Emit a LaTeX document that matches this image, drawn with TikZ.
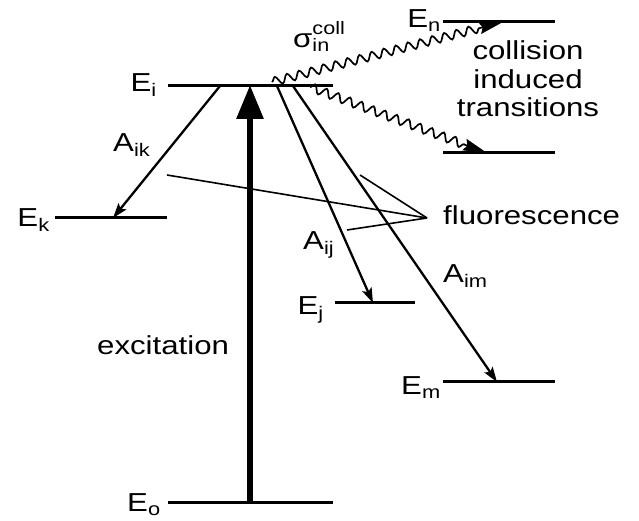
\documentclass[tikz,border=0pt]{standalone}
\usepackage{fontspec}
\setmainfont{Liberation Sans}
\usetikzlibrary{arrows.meta,decorations.pathmorphing}
\newcommand{\widetxt}[1]{\scalebox{1.2}[1]{#1}}
\newcommand{\smalltxt}{\fontsize{18}{14}\selectfont}

\begin{document}
\begin{tikzpicture}[x=1pt,y=1pt,
  lvl/.style={line width=3pt},
  lab/.style={font=\fontsize{26}{28.5}\selectfont,inner sep=0pt},
  arr/.style={line width=2.3pt,-{Stealth[length=15pt,width=10pt,inset=3pt]}},
  exc/.style={line width=6pt,-{Triangle[length=34pt,width=26pt]}},
  wave/.style={line width=1.7pt,decorate,decoration={snake,amplitude=4.2pt,
    segment length=12.5pt,post length=24pt},-{Stealth[length=24pt,width=12pt,inset=3pt]}},
  pointer/.style={line width=1.6pt}]
  \useasboundingbox (0,0) rectangle (639,521);
  % levels
  \coordinate (ia) at (168,435); \coordinate (ib) at (333,435);
  \coordinate (ka) at (55,303);  \coordinate (kb) at (167,303);
  \coordinate (ja) at (335,218); \coordinate (jb) at (415,218);
  \coordinate (ma) at (443,139); \coordinate (mb) at (555,139);
  \coordinate (oa) at (168,18);  \coordinate (ob) at (333,18);
  \coordinate (na) at (443,499); \coordinate (nb) at (555,499);
  \coordinate (ca) at (443,368); \coordinate (cb) at (555,368);
  \foreach \l in {i,k,j,m,o,n,c}
    \draw[lvl] (\l a) -- (\l b);
  \node[lab,anchor=base east] (Ei) at (157,429) {\widetxt{E\textsubscript{i}}};
  \node[lab,anchor=base east] (Ek) at (50,294) {\widetxt{E\textsubscript{k}}};
  \node[lab,anchor=base east] (Ej) at (324,206) {\widetxt{E\textsubscript{j}}};
  \node[lab,anchor=base east] (Em) at (441,126) {\widetxt{E\textsubscript{m}}};
  \node[lab,anchor=base east] (Eo) at (161,9) {\widetxt{E\textsubscript{o}}};
  \node[lab,anchor=base east] (En) at (441,493) {\widetxt{E\textsubscript{n}}};
  % excitation
  \coordinate (x0) at (250,18); \coordinate (x1) at (250,436);
  \draw[exc] (x0) -- (x1);
  \node[lab,anchor=base west] (exctxt) at (97,166) {\widetxt{excitation}};
  % spontaneous decay
  \coordinate (ik) at (220,435); \coordinate (k) at (113,303);
  \coordinate (ij) at (277,435); \coordinate (j) at (373,218);
  \coordinate (im) at (293,435); \coordinate (m) at (497,139);
  \draw[arr] (ik) -- (k);
  \draw[arr] (ij) -- (j);
  \draw[arr] (im) -- (m);
  \node[lab,anchor=base west] (Aik) at (113,369) {\widetxt{A\textsubscript{ik}}};
  \node[lab,anchor=base west] (Aij) at (303,271) {\widetxt{A\textsubscript{ij}}};
  \node[lab,anchor=base west] (Aim) at (443,238) {\widetxt{A\textsubscript{im}}};
  % fluorescence pointers
  \node[lab,anchor=base west] (fl) at (443,296) {\widetxt{fluorescence}};
  \coordinate (fp) at (427,303);
  \coordinate (f1) at (167,346);
  \coordinate (f2) at (360,346);
  \coordinate (f3) at (347,291);
  \foreach \f in {f1,f2,f3}
    \draw[pointer] (\f) -- (fp);
  % collisions
  \coordinate (w1) at (272,439); \coordinate (n) at (503,499);
  \coordinate (w2) at (310,434); \coordinate (c) at (487,368);
  \draw[wave] (w1) -- (n);
  \draw[wave] (w2) -- (c);
  \node[lab,anchor=base west] (sig) at (293,473)
    {\widetxt{σ\raisebox{-4pt}{\smalltxt\begin{tabular}[b]{@{}l@{}}coll\\in\end{tabular}}}};
  \node[lab,anchor=base] (coll) at (528,461)
    {\widetxt{\begin{tabular}[t]{@{}c@{}}collision\\induced\\transitions\end{tabular}}};
\end{tikzpicture}
\end{document}
